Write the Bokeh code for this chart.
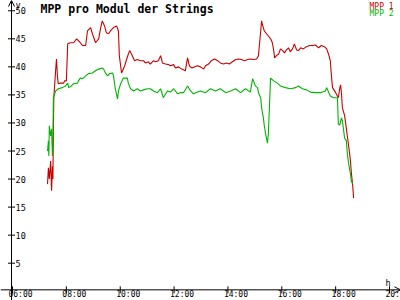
from bokeh.plotting import figure
from bokeh.models import Range1d, Label, Arrow, OpenHead, ColumnDataSource
from bokeh.core.properties import value
from bokeh.embed import file_html
from bokeh.resources import INLINE

# ---------------- data ----------------
title_text = "MPP pro Modul der Strings"
series_names = ["MPP 1", "MPP 2"]

mpp1_times = ["07:18", "07:20", "07:22", "07:25", "07:27", "07:29", "07:30", "07:31", "07:32", "07:36",
              "07:38", "07:40", "07:42", "07:47", "07:54", "07:56", "08:00", "08:03", "08:09", "08:16",
              "08:23", "08:31", "08:36", "08:43", "08:47", "08:54", "08:58", "09:05", "09:12", "09:16",
              "09:20", "09:25", "09:29", "09:34", "09:38", "09:45", "09:52", "09:56", "09:58", "10:03",
              "10:10", "10:16", "10:21", "10:25", "10:32", "10:38", "10:45", "10:52", "10:56", "11:03",
              "11:07", "11:14", "11:19", "11:25", "11:30", "11:34", "11:41", "11:48", "11:52", "11:59",
              "12:03", "12:10", "12:17", "12:25", "12:30", "12:34", "12:39", "12:46", "12:52", "12:59",
              "13:06", "13:10", "13:17", "13:23", "13:30", "13:37", "13:43", "13:50", "13:57", "14:03",
              "14:10", "14:17", "14:23", "14:30", "14:37", "14:44", "14:50", "14:57", "15:04", "15:08",
              "15:10", "15:13", "15:15", "15:17", "15:21", "15:26", "15:30", "15:35", "15:39", "15:42",
              "15:44", "15:48", "15:53", "15:57", "16:02", "16:06", "16:10", "16:15", "16:19", "16:24",
              "16:28", "16:33", "16:37", "16:42", "16:48", "16:55", "17:02", "17:08", "17:15", "17:22",
              "17:28", "17:35", "17:40", "17:44", "17:48", "17:51", "17:53", "18:00", "18:06", "18:09",
              "18:11", "18:13", "18:15", "18:20", "18:24", "18:29", "18:33", "18:35", "18:38", "18:40"]
mpp1_values = [19.1, 22.0, 20.0, 23.2, 17.9, 22.3, 20.0, 28.2, 34.5, 39.3,
               41.4, 38.4, 37.0, 37.1, 37.1, 37.5, 37.5, 44.1, 44.3, 44.3,
               45.0, 44.3, 43.8, 43.8, 46.4, 47.0, 45.9, 44.3, 45.0, 46.8,
               48.2, 47.3, 46.1, 45.9, 46.4, 47.0, 47.3, 46.4, 42.0, 38.9,
               40.2, 41.8, 42.9, 42.3, 41.1, 41.3, 41.1, 41.1, 40.7, 40.9,
               40.5, 41.1, 40.9, 41.1, 42.0, 40.7, 40.5, 40.4, 40.2, 40.4,
               39.8, 40.0, 39.6, 39.3, 41.6, 40.2, 39.8, 40.0, 40.2, 40.0,
               39.6, 40.2, 40.5, 41.1, 41.4, 41.1, 40.7, 40.5, 40.7, 40.5,
               40.9, 41.3, 41.4, 41.3, 41.1, 41.3, 41.4, 41.3, 41.4, 42.0,
               43.8, 46.4, 48.2, 47.5, 46.4, 45.9, 45.5, 45.0, 44.3, 42.9,
               41.6, 42.0, 42.3, 43.2, 42.9, 42.5, 43.0, 43.4, 42.7, 43.2,
               44.1, 43.0, 42.9, 43.4, 43.2, 43.6, 43.8, 43.8, 43.9, 43.4,
               43.8, 43.6, 43.2, 42.3, 41.1, 38.0, 36.3, 35.4, 34.5, 36.1,
               36.8, 35.2, 32.7, 31.3, 28.9, 25.9, 23.2, 21.1, 18.8, 16.6]

mpp2_times = ["07:18", "07:20", "07:21", "07:22", "07:25", "07:27", "07:29", "07:30", "07:31", "07:36",
              "07:42", "07:51", "07:58", "08:03", "08:05", "08:11", "08:16", "08:25", "08:27", "08:31",
              "08:36", "08:43", "08:49", "08:58", "09:05", "09:12", "09:20", "09:23", "09:27", "09:32",
              "09:36", "09:43", "09:45", "09:49", "09:54", "09:56", "10:01", "10:07", "10:16", "10:18",
              "10:23", "10:30", "10:38", "10:45", "10:52", "11:01", "11:07", "11:14", "11:23", "11:30",
              "11:36", "11:45", "11:52", "11:59", "12:08", "12:14", "12:21", "12:30", "12:37", "12:43",
              "12:52", "12:59", "13:10", "13:21", "13:32", "13:43", "13:55", "14:06", "14:17", "14:28",
              "14:39", "14:50", "14:55", "14:57", "15:01", "15:06", "15:08", "15:13", "15:15", "15:19",
              "15:21", "15:24", "15:28", "15:30", "15:33", "15:35", "15:42", "15:50", "15:57", "16:08",
              "16:19", "16:31", "16:37", "16:46", "16:55", "17:04", "17:15", "17:26", "17:37", "17:40",
              "17:48", "17:55", "18:04", "18:06", "18:09", "18:13", "18:15", "18:20", "18:24", "18:26",
              "18:29", "18:33", "18:35", "18:38"]
mpp2_values = [25.0, 26.8, 24.1, 29.5, 27.7, 28.9, 24.1, 25.9, 34.5, 35.7,
               36.1, 36.3, 36.6, 37.1, 36.3, 36.6, 37.0, 37.1, 37.5, 38.0,
               37.9, 38.4, 38.8, 38.9, 39.3, 39.6, 39.8, 39.6, 38.9, 38.4,
               38.8, 38.9, 38.4, 36.1, 34.3, 35.7, 37.0, 38.0, 38.0, 37.1,
               36.1, 35.7, 36.1, 35.7, 35.9, 36.1, 36.1, 35.7, 35.4, 36.1,
               34.5, 35.7, 35.5, 36.1, 35.2, 35.4, 35.4, 36.6, 35.7, 35.2,
               35.5, 35.7, 35.4, 36.1, 35.7, 36.1, 35.4, 35.7, 36.1, 35.4,
               36.1, 35.5, 37.9, 37.5, 36.6, 36.3, 35.4, 34.5, 32.7, 30.9,
               29.5, 28.0, 26.4, 28.0, 33.9, 38.0, 37.5, 37.1, 36.6, 36.3,
               36.1, 36.3, 36.6, 36.1, 35.9, 35.5, 35.4, 35.4, 35.7, 36.3,
               34.8, 34.5, 34.5, 29.8, 29.6, 30.9, 30.4, 27.3, 26.8, 24.5,
               22.7, 20.9, 19.6, 19.1]

x_tick_labels = ["06:00", "08:00", "10:00", "12:00", "14:00", "16:00", "18:00", "20:00"]
y_tick_values = [5, 10, 15, 20, 25, 30, 35, 40, 45, 50]
x_axis_name = "h"
y_axis_name = "y"

# ---------------- styles ----------------
RED = "#c80000"
GREEN = "#00b400"
MONO = "DejaVu Sans Mono"
X_MIN, X_MAX = 5.554, 20.408
Y_MIN, Y_MAX = -1.65, 51.83
AXIS_X = 5.963
AXIS_Y = 0.25


def to_hours(t):
    hh, mm = t.split(":")
    return int(hh) + int(mm) / 60.0


p = figure(width=400, height=300, x_range=Range1d(X_MIN, X_MAX), y_range=Range1d(Y_MIN, Y_MAX),
           output_backend="svg", toolbar_location=None, x_axis_type=None, y_axis_type=None,
           min_border=0, outline_line_color=None,
           background_fill_color="white", border_fill_color="white")

# data lines
p.line([to_hours(t) for t in mpp1_times], mpp1_values, line_color=RED, line_width=1.1)
p.line([to_hours(t) for t in mpp2_times], mpp2_values, line_color=GREEN, line_width=1.1)

# axes with arrow heads
p.add_layout(Arrow(end=OpenHead(size=6, line_color="black", line_width=1),
                   x_start=AXIS_X, y_start=Y_MIN, x_end=AXIS_X, y_end=Y_MAX,
                   line_color="black", line_width=1))
p.add_layout(Arrow(end=OpenHead(size=6, line_color="black", line_width=1),
                   x_start=X_MIN, y_start=AXIS_Y, x_end=X_MAX, y_end=AXIS_Y,
                   line_color="black", line_width=1))

# y ticks and labels
p.scatter(x=[AXIS_X] * len(y_tick_values), y=y_tick_values, marker="dash", size=7,
          line_color="black", line_width=1)
ysrc = ColumnDataSource(dict(x=[AXIS_X] * len(y_tick_values), y=y_tick_values,
                             t=[str(v) for v in y_tick_values]))
p.text(x="x", y="y", text="t", source=ysrc, x_offset=4, text_align="left", text_baseline="middle",
       text_font=value(MONO), text_font_size=value("8.5px"), text_color="black")

# x ticks and labels
x_tick_hours = [to_hours(t) for t in x_tick_labels]
p.scatter(x=x_tick_hours, y=[AXIS_Y] * len(x_tick_hours), marker="dash", size=7, angle=1.5708,
          line_color="black", line_width=1)
xsrc = ColumnDataSource(dict(x=x_tick_hours, y=[AXIS_Y] * len(x_tick_hours), t=x_tick_labels))
p.text(x="x", y="y", text="t", source=xsrc, x_offset=8, y_offset=0.5, text_align="center",
       text_baseline="top", text_font=value(MONO), text_font_size=value("8px"), text_color="black")

# titles and legend texts
p.add_layout(Label(x=40, y=299, x_units="screen", y_units="screen", text=title_text,
                   text_font=MONO, text_font_size="11.5px", text_font_style="bold",
                   text_baseline="top", text_align="left", text_color="black"))
p.add_layout(Label(x=369, y=299, x_units="screen", y_units="screen", text=series_names[0],
                   text_font=MONO, text_font_size="8px", text_baseline="top", text_color=RED))
p.add_layout(Label(x=369, y=292, x_units="screen", y_units="screen", text=series_names[1],
                   text_font=MONO, text_font_size="8px", text_baseline="top", text_color=GREEN))
p.add_layout(Label(x=385, y=23, x_units="screen", y_units="screen", text=x_axis_name,
                   text_font=MONO, text_font_size="8.5px", text_baseline="top", text_color="black"))
p.add_layout(Label(x=15, y=296, x_units="screen", y_units="screen", text=y_axis_name,
                   text_font=MONO, text_font_size="8.5px", text_baseline="alphabetic",
                   text_color="black"))

open("out.html", "w").write(file_html(p, INLINE))
